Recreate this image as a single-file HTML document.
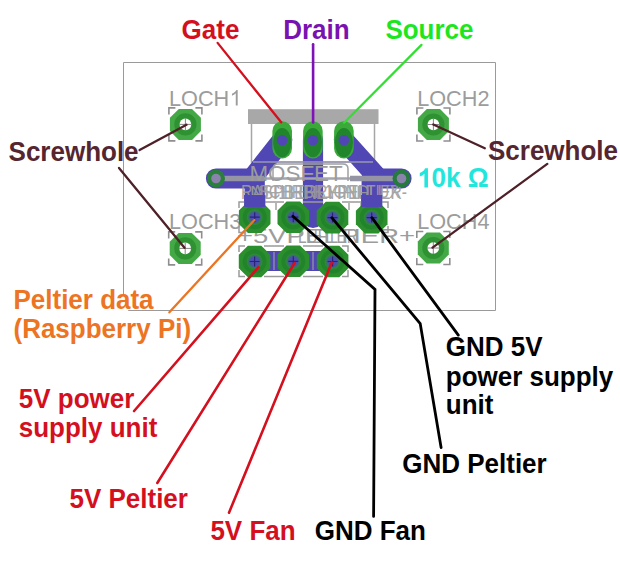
<!DOCTYPE html>
<html><head><meta charset="utf-8">
<style>
html,body{margin:0;padding:0;background:#fff;width:620px;height:568px;overflow:hidden}
svg{display:block}
.lb{font-family:"Liberation Sans",sans-serif;font-weight:bold;font-size:26px}
.sk{font-family:"Liberation Sans",sans-serif;font-size:21.7px;fill:#9c9c9c}
</style></head><body>
<svg width="620" height="568" viewBox="0 0 620 568">
<defs>
  <path id="one_r" d="M763,0 L583,0 L583,1147 C540,1106 483,1065 413,1024 C343,983 280,952 223,931 L223,1105 C324,1152 412,1210 487,1277 C562,1344 615,1409 646,1472 L763,1472 Z"/>
  <path id="one_b" d="M856,0 L575,0 L575,1059 C472,963 351,892 211,846 L211,1101 C285,1125 365,1171 451,1238 C537,1306 596,1384 628,1472 L856,1472 Z"/>
  <path id="octp" d="M-15.5,-6.6 L-6.6,-15.5 L6.6,-15.5 L15.5,-6.6 L15.5,6.6 L6.6,15.5 L-6.6,15.5 L-15.5,6.6 Z"/>
  <g id="loch">
    <use href="#octp" fill="#43a845"/>
    <circle r="8.6" fill="none" stroke="#2f9232" stroke-width="5"/>
    <circle r="5.8" fill="#fff"/>
    <path d="M-6,0 H6 M0,-6 V6" stroke="#666" stroke-width="0.8"/>
    <path d="M-16.5,-10 V-16.5 H-10 M10,-16.5 H16.5 V-10 M16.5,10 V16.5 H10 M-10,16.5 H-16.5 V10" fill="none" stroke="#8e8e8e" stroke-width="1.6"/>
  </g>
  <radialGradient id="hg">
    <stop offset="0" stop-color="#4d48b8"/>
    <stop offset="0.55" stop-color="#4a50ae"/>
    <stop offset="1" stop-color="#4a50ae" stop-opacity="0"/>
  </radialGradient>
  <g id="hp">
    <use href="#octp" fill="#2a8f2c" transform="scale(1.02)"/>
    <circle r="10" fill="none" stroke="#22842a" stroke-width="4"/>
    <circle r="7.6" fill="url(#hg)"/>
    <path d="M-5,0 H5 M0,-5 V5" stroke="#2a237a" stroke-width="1.2"/>
  </g>
  <rect id="mp" x="-9.8" y="-18.6" width="19.6" height="37.2" rx="9.8"/>
</defs>

<!-- board outline -->
<path d="M123.5,295.5 V62.5 H495.5 V310.5 H128.2" fill="none" stroke="#9a9a9a" stroke-width="1"/>

<!-- MOSFET silkscreen -->
<rect x="248" y="109.2" width="130.5" height="14.8" fill="#a8a8a8"/>
<path d="M251.5,124 V162 H374.5 V124" fill="none" stroke="#a6a6a6" stroke-width="1.5"/>

<!-- blue traces (under pads) -->
<g fill="none" stroke="#5046b4" stroke-width="20.2" stroke-linecap="round" stroke-linejoin="round">
  <path d="M282.2,140 L254.7,175"/>
  <path d="M216,178.5 H254.7 V200"/>
  <path d="M343.9,140 L378.5,178.5"/>
  <path d="M401.5,178.5 H371.7 V200"/>
  <path d="M313,140 V218"/>
  <path d="M254.7,261 H332.5" stroke-linecap="butt"/>
</g>
<g fill="none" stroke="#5046b4" stroke-width="21">
  <path d="M254.7,195 V207"/>
  <path d="M371.7,195 V207"/>
</g>

<!-- silkscreen -->
<path d="M224,178.5 H264 M350,178.5 H393" stroke="#9494a4" stroke-width="5.5"/>
<path d="M264,178.5 H350" stroke="#a4a4ac" stroke-width="2.5"/>
<path d="M253,162 H373" stroke="#9a98b0" stroke-width="1.5"/>
<path d="M273,181 V169 Q273,164 278,164 H343 Q348,164 348,169 V181" fill="none" stroke="#a0a0a0" stroke-width="1.5"/>
<text id="mosfet" class="sk" x="249.4" y="180.9" style="font-size:22.4px">MOSFET</text>
<g style="font-size:19px" opacity="0.9">
<text class="sk" x="241" y="198.6" textLength="166" lengthAdjust="spacingAndGlyphs" style="font-size:20px">RASPBERRYPELTIER-</text>
<text class="sk" x="258" y="197.5" textLength="142" lengthAdjust="spacingAndGlyphs" style="font-size:19px">SCHRBK1GNDLUX</text>
<text class="sk" x="250" y="198.6" textLength="120" lengthAdjust="spacingAndGlyphs" style="font-size:19px">NH1HHLHHH</text>
</g>
<path d="M252,203 V210 M276,203 V210 M290,203 V210 M330,203 V210 M349,203 V210 M361,203 V210" stroke="#a0a0a0" stroke-width="1.5"/>
<text class="sk" x="237" y="242.5" textLength="178" lengthAdjust="spacingAndGlyphs" style="font-size:21px">+5VPELTIER+</text>
<text class="sk" x="298" y="242.5" textLength="60" lengthAdjust="spacingAndGlyphs" style="font-size:20px">LUFTER</text>
<!-- header bracket outlines -->
<g fill="none" stroke="#9a9a9a" stroke-width="1.5">
  <path d="M239,208 V202 H245 M264,202 H284 M303,202 H323 M342,202 H362 M381,202 H388 V208"/>
  <path d="M239,226 V232.5 H245 M381,232.5 H388 V226"/>
  <path d="M239,252 V246 H245 M264,246 H284 M303,246 H323 M342,246 H348 V252"/>
  <path d="M239,270 V276.5 H245 M264,276.5 H284 M303,276.5 H323 M342,276.5 H348 V270"/>
  <path d="M274,252 V270 M313,252 V270" stroke="#8a88a8"/>
</g>

<!-- vias -->
<g>
  <circle cx="216" cy="178.5" r="9" fill="#2a7f3a"/>
  <circle cx="216" cy="178.5" r="4.8" fill="#8a84ac"/>
  <circle cx="401.5" cy="178.5" r="9" fill="#267a3e"/>
  <circle cx="401.5" cy="178.5" r="4.8" fill="#8a84ac"/>
</g>

<!-- MOSFET pads -->
<g fill="#3aa93a">
  <use href="#mp" x="282.2" y="139.8"/>
  <use href="#mp" x="312.9" y="139.8"/>
  <use href="#mp" x="343.9" y="139.8"/>
</g>
<g fill="#21862b">
  <ellipse cx="282.2" cy="142.6" rx="9.1" ry="14.6"/>
  <ellipse cx="312.9" cy="142.6" rx="9.1" ry="14.6"/>
  <ellipse cx="343.9" cy="142.6" rx="9.1" ry="14.6"/>
</g>
<g fill="#5046b4">
  <circle cx="282.2" cy="140.3" r="5.4"/>
  <circle cx="312.9" cy="140.3" r="5.4"/>
  <circle cx="343.9" cy="140.3" r="5.4"/>
</g>

<!-- LOCH pads -->
<use href="#loch" x="185.4" y="124.4"/>
<use href="#loch" x="433.4" y="124.5"/>
<use href="#loch" x="185.2" y="248.4"/>
<use href="#loch" x="433.3" y="248"/>
<text id="l1" class="sk" x="169" y="105.5">LOCH</text><use href="#one_r" fill="#9c9c9c" transform="translate(229.6,105.5) scale(0.010596,-0.010596)"/>
<text id="l2" class="sk" x="417.2" y="105.5">LOCH2</text>
<text id="l3" class="sk" x="169" y="229">LOCH3</text>
<text id="l4" class="sk" x="417.2" y="229">LOCH4</text>

<!-- header pads -->
<use href="#hp" x="254.7" y="217.2"/>
<use href="#hp" x="293.3" y="217.2"/>
<use href="#hp" x="332.5" y="217.6"/>
<use href="#hp" x="371.7" y="217.6"/>
<use href="#hp" x="254.6" y="261.5"/>
<use href="#hp" x="293.3" y="261.3"/>
<use href="#hp" x="332.6" y="261.5"/>
<g fill="none" stroke="#5046b4" stroke-width="21">
  <path d="M254.7,195 V207"/>
  <path d="M371.7,195 V207"/>
</g>

<!-- leader lines -->
<g fill="none" stroke-width="2.6" stroke-linecap="round" stroke-linejoin="miter">
  <path d="M217.6,42.9 L281.2,122.3" stroke="#d4101e" stroke-width="2.3"/>
  <path d="M313.1,44.2 V122.5" stroke="#8010b8" stroke-width="2.6"/>
  <path d="M421.5,44.9 L344.1,122.7" stroke="#2fe02f" stroke-width="2.2"/>
  <path d="M139.6,150.1 L186.5,124.8" stroke="#4e2028" stroke-width="2.3"/>
  <path d="M119,168 L184.5,247.8" stroke="#4e2028" stroke-width="2.3"/>
  <path d="M484.8,148.3 L433.3,124.5" stroke="#4e2028" stroke-width="2.3"/>
  <path d="M547.3,163.9 L432.5,247.6" stroke="#4e2028" stroke-width="2.3"/>
  <path d="M254.4,220 L169.4,312.3" stroke="#ec7422" stroke-width="2.3"/>
  <path d="M258.5,267.2 L134.1,411" stroke="#d4101e"/>
  <path d="M294.5,263.2 L157.3,483" stroke="#d4101e"/>
  <path d="M331.8,262.6 L229,512.7" stroke="#d4101e"/>
  <path d="M292.9,216.3 L375,289.4 L373.6,516.4" stroke="#000" stroke-width="2.8"/>
  <path d="M331.8,217.7 L420.2,323.5 L441.1,447.5" stroke="#000" stroke-width="2.8"/>
  <path d="M371.9,217.7 L458.3,335.1" stroke="#000" stroke-width="2.8"/>
</g>

<!-- labels -->
<g id="labels">
<text class="lb" x="181.6" y="38.8" fill="#d4101e" transform="matrix(1,0,0,1.03,0,-1.164)">Gate</text>
<text class="lb" x="283.2" y="39.1" fill="#7a12b0" transform="matrix(1,0,0,1.03,0,-1.173)">Drain</text>
<text class="lb" x="385.4" y="38.6" fill="#1ee61e" transform="matrix(1,0,0,1.03,0,-1.158)">Source</text>
<text class="lb" x="8.6" y="161.2" fill="#552630" transform="matrix(1,0,0,1.03,0,-4.836)">Screwhole</text>
<text class="lb" x="488" y="160.2" fill="#552630" transform="matrix(1,0,0,1.03,0,-4.806)">Screwhole</text>
<text class="lb" x="13.5" y="309.3" fill="#ec7422" transform="matrix(1,0,0,1.03,0,-9.279)">Peltier data</text>
<text class="lb" x="13.5" y="338.5" fill="#ec7422" transform="matrix(1,0,0,1.03,0,-10.155)">(Raspberry Pi)</text>
<text class="lb" x="18.8" y="407.8" fill="#d4101e" transform="matrix(1,0,0,1.03,0,-12.234)">5V power</text>
<text class="lb" x="18.8" y="437.2" fill="#d4101e" transform="matrix(1,0,0,1.03,0,-13.116)">supply unit</text>
<text class="lb" x="69.5" y="508.1" fill="#d4101e" transform="matrix(1,0,0,1.03,0,-15.243)">5V Peltier</text>
<text class="lb" x="210.4" y="539.9" fill="#d4101e" transform="matrix(1,0,0,1.03,0,-16.197)">5V Fan</text>
<text class="lb" x="314.8" y="540.1" fill="#000" transform="matrix(1,0,0,1.03,0,-16.203)">GND Fan</text>
<text class="lb" x="402.3" y="472.9" fill="#000" transform="matrix(1,0,0,1.03,0,-14.187)">GND Peltier</text>
<text class="lb" x="445.8" y="355.7" fill="#000" transform="matrix(1,0,0,1.03,0,-10.671)">GND 5V</text>
<text class="lb" x="445.8" y="385.7" fill="#000" transform="matrix(1,0,0,1.03,0,-11.571)">power supply</text>
<text class="lb" x="445.8" y="413.9" fill="#000" transform="matrix(1,0,0,1.03,0,-12.417)">unit</text>
<g transform="matrix(1,0,0,1.03,0,-5.625)"><use href="#one_b" fill="#22e6dc" transform="translate(417.1,187.5) scale(0.012695,-0.012695)"/><text class="lb" x="431.56" y="187.5" fill="#22e6dc">0k Ω</text></g>
</g>
</svg>
</body></html>
